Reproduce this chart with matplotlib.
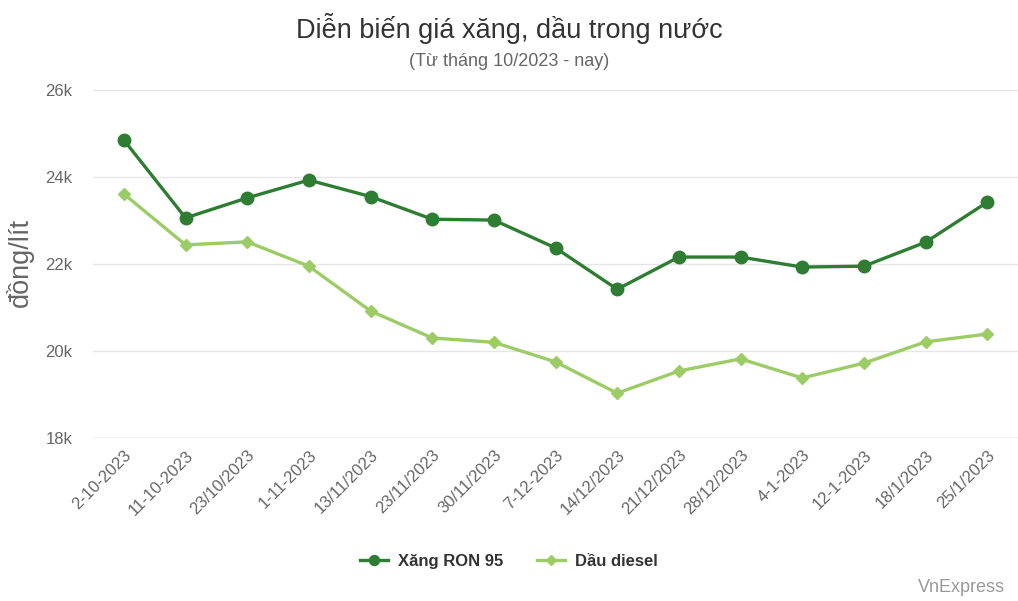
import matplotlib.pyplot as plt

plt.rcParams['font.family'] = ['Liberation Sans', 'DejaVu Sans']

dates = ["2-10-2023", "11-10-2023", "23/10/2023", "1-11-2023", "13/11/2023",
         "23/11/2023", "30/11/2023", "7-12-2023", "14/12/2023", "21/12/2023",
         "28/12/2023", "4-1-2023", "12-1-2023", "18/1/2023", "25/1/2023"]
ron95 = [24850, 23060, 23520, 23930, 23550, 23030, 23010, 22370, 21420,
         22160, 22160, 21930, 21950, 22500, 23420]
diesel = [23610, 22440, 22510, 21950, 20920, 20300, 20200, 19750, 19030,
          19540, 19820, 19380, 19720, 20210, 20390]
yticks = [18000, 20000, 22000, 24000, 26000]
ytick_labels = ["18k", "20k", "22k", "24k", "26k"]

dark = '#2e7d32'
light = '#9ccc65'

fig = plt.figure(figsize=(10.18, 6.01), dpi=100)
ax = fig.add_axes([0.0914, 0.2712, 0.9086, 0.579])

x = range(len(dates))
ax.plot(x, ron95, color=dark, lw=2.4, marker='o', ms=9, label='Xăng RON 95', zorder=3)
ax.plot(x, diesel, color=light, lw=2.4, marker='D', ms=6.5, label='Dầu diesel', zorder=3)

ax.set_xlim(-0.5, len(dates) - 0.5)
ax.set_ylim(18000, 26000)
ax.set_yticks(yticks)
ax.set_yticklabels(ytick_labels)
ax.set_xticks(list(x))
ax.set_xticklabels(dates, rotation=45, ha='right', rotation_mode='anchor')
ax.tick_params(axis='both', length=0, labelsize=12, colors='#666666')
ax.tick_params(axis='x', pad=7)
ax.tick_params(axis='y', pad=15)
ax.grid(axis='y', color='#e6e6e6', lw=1)
ax.set_axisbelow(True)
for s in ax.spines.values():
    s.set_visible(False)
ax.axhline(18000, color='#ccd6eb', lw=1, zorder=1)

# y label placed by hand, like the reference
fig.text(0.0197, 0.564, 'đồng/lít', rotation=90, ha='center', va='center',
         fontsize=19.5, color='#666666')

fig.text(0.5, 0.953, 'Diễn biến giá xăng, dầu trong nước', ha='center', va='center',
         fontsize=19.5, color='#333333')
fig.text(0.5, 0.898, '(Từ tháng 10/2023 - nay)', ha='center', va='center',
         fontsize=13, color='#666666')

leg = fig.legend(loc='center', bbox_to_anchor=(0.5, 0.066), ncol=2, frameon=False,
                 prop={'weight': 'bold', 'size': 12}, handlelength=1.7,
                 columnspacing=2.0, markerscale=0.8, handletextpad=0.6)
for t in leg.get_texts():
    t.set_color('#333333')

fig.text(0.987, 0.023, 'VnExpress', ha='right', va='center', fontsize=13, color='#999999')

fig.savefig('out.png', dpi=100)
